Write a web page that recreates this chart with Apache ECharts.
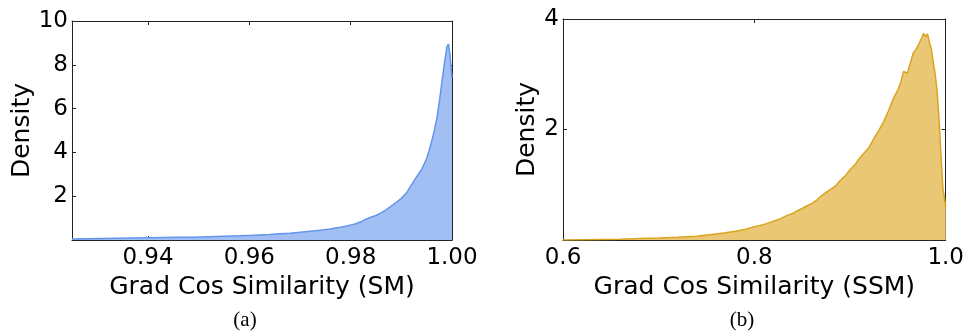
<!DOCTYPE html>
<html>
<head>
<meta charset="utf-8">
<script src="https://cdn.jsdelivr.net/npm/echarts@6/dist/echarts.min.js"></script>
<style>html,body{margin:0;padding:0;background:#fff;}#c{width:967px;height:333px;}</style>
</head>
<body>
<div id="c"></div>
<script>
// ---- Panel (a): SM ----
const smX = [0.925,0.928,0.931,0.934,0.937,0.940,0.943,0.946,0.949,0.952,0.955,0.958,0.960,0.962,0.964,0.966,0.968,0.970,0.972,0.974,0.976,0.977,0.978,0.979,0.980,0.981,0.982,0.983,0.984,0.985,0.986,0.987,0.988,0.989,0.990,0.991,0.992,0.993,0.994,0.995,0.9955,0.996,0.9965,0.997,0.9975,0.998,0.9985,0.999,0.9993,0.9996,0.9998,1.000];
const smY = [0.05,0.06,0.07,0.08,0.09,0.10,0.11,0.12,0.13,0.15,0.17,0.19,0.21,0.23,0.25,0.28,0.31,0.35,0.40,0.45,0.50,0.55,0.58,0.63,0.68,0.74,0.83,0.95,1.04,1.12,1.24,1.38,1.55,1.72,1.90,2.14,2.52,2.88,3.22,3.72,4.10,4.52,4.98,5.55,6.30,7.20,8.05,8.83,8.94,8.45,7.90,7.40];
const smXTicks = [0.94, 0.96, 0.98, 1.00];
const smYTicks = [0, 2, 4, 6, 8, 10];

// ---- Panel (b): SSM ----
const ssmX = [0.600,0.620,0.640,0.660,0.680,0.700,0.720,0.740,0.750,0.760,0.770,0.780,0.790,0.800,0.805,0.810,0.815,0.820,0.825,0.830,0.835,0.840,0.845,0.850,0.855,0.860,0.865,0.870,0.875,0.880,0.885,0.890,0.895,0.900,0.905,0.910,0.915,0.920,0.925,0.930,0.935,0.940,0.945,0.950,0.953,0.956,0.960,0.963,0.966,0.969,0.972,0.975,0.977,0.979,0.981,0.983,0.985,0.987,0.989,0.991,0.993,0.995,0.997,0.999,1.000];
const ssmY = [0.00,0.005,0.01,0.015,0.025,0.035,0.05,0.07,0.09,0.11,0.13,0.16,0.19,0.24,0.26,0.28,0.31,0.34,0.37,0.41,0.45,0.48,0.53,0.57,0.62,0.66,0.72,0.80,0.86,0.92,0.98,1.08,1.16,1.27,1.36,1.48,1.58,1.68,1.84,1.98,2.14,2.33,2.55,2.72,2.85,3.05,3.02,3.20,3.38,3.45,3.55,3.66,3.74,3.68,3.73,3.58,3.45,3.22,3.00,2.70,2.18,1.55,0.95,0.72,0.60];
const ssmXTicks = [0.6, 0.8, 1.0];
const ssmYTicks = [0, 2, 4];

const pair = (xs, ys) => xs.map((x, i) => [x, ys[i]]);
const FONT = 'DejaVu Sans';
const frame = '#222';
const labelStyle = {fontFamily: FONT, fontSize: 23, color: '#000'};
const nameStyle = {fontFamily: FONT, fontSize: 25, color: '#000'};

function xAx(grid, min, max, ticks, dec, name, pos, show) {
  return {
    type: 'value', gridIndex: grid, min: min, max: max, position: pos,
    name: show ? name : '', nameLocation: 'middle', nameGap: 26, nameTextStyle: nameStyle,
    axisLine: {show: true, onZero: false, lineStyle: {color: frame, width: 1}},
    axisTick: {show: true, inside: true, length: 4, customValues: ticks, lineStyle: {color: frame}},
    axisLabel: {show: show, customValues: ticks, margin: 7, formatter: v => Number(v).toFixed(dec), ...labelStyle},
    splitLine: {show: false}
  };
}
function yAx(grid, max, ticks, name, nameGap, pos, show) {
  return {
    type: 'value', gridIndex: grid, min: 0, max: max, position: pos,
    name: show ? name : '', nameLocation: 'middle', nameGap: nameGap, nameTextStyle: nameStyle,
    axisLine: {show: true, onZero: false, lineStyle: {color: frame, width: 1}},
    axisTick: {show: true, inside: true, length: 4, customValues: ticks, lineStyle: {color: frame}},
    axisLabel: {show: show, customValues: ticks, margin: 4, formatter: v => (v === 0 ? '' : String(v)), ...labelStyle},
    splitLine: {show: false}
  };
}

const chart = echarts.init(document.getElementById('c'), null, {renderer: 'canvas'});
chart.setOption({
  animation: false,
  backgroundColor: '#fff',
  grid: [
    {left: 72, top: 21, width: 380, height: 219},
    {left: 563, top: 19, width: 383, height: 221}
  ],
  xAxis: [
    xAx(0, 0.925, 1.0, smXTicks, 2, 'Grad Cos Similarity (SM)', 'bottom', true),
    xAx(0, 0.925, 1.0, smXTicks, 2, '', 'top', false),
    xAx(1, 0.6, 1.0, ssmXTicks, 1, 'Grad Cos Similarity (SSM)', 'bottom', true),
    xAx(1, 0.6, 1.0, ssmXTicks, 1, '', 'top', false)
  ],
  yAxis: [
    yAx(0, 10, smYTicks, 'Density', 34, 'left', true),
    yAx(0, 10, smYTicks, '', 0, 'right', false),
    yAx(1, 4, ssmYTicks, 'Density', 20, 'left', true),
    yAx(1, 4, ssmYTicks, '', 0, 'right', false)
  ],
  series: [
    {
      type: 'line', xAxisIndex: 0, yAxisIndex: 0, data: pair(smX, smY),
      showSymbol: false, symbol: 'none', smooth: false, clip: true,
      lineStyle: {color: '#6495ED', width: 1.5},
      areaStyle: {color: '#A2BFF4', opacity: 1}
    },
    {
      type: 'line', xAxisIndex: 2, yAxisIndex: 2, data: pair(ssmX, ssmY),
      showSymbol: false, symbol: 'none', smooth: false, clip: true,
      lineStyle: {color: '#DAA520', width: 1.5},
      areaStyle: {color: '#E9C775', opacity: 1}
    }
  ],
  graphic: [
    {type: 'text', style: {text: '(a)', x: 245, y: 320, align: 'center', verticalAlign: 'middle', font: '21px "Liberation Serif"', fill: '#000'}},
    {type: 'text', style: {text: '(b)', x: 742, y: 320, align: 'center', verticalAlign: 'middle', font: '21px "Liberation Serif"', fill: '#000'}}
  ]
});
</script>
</body>
</html>
